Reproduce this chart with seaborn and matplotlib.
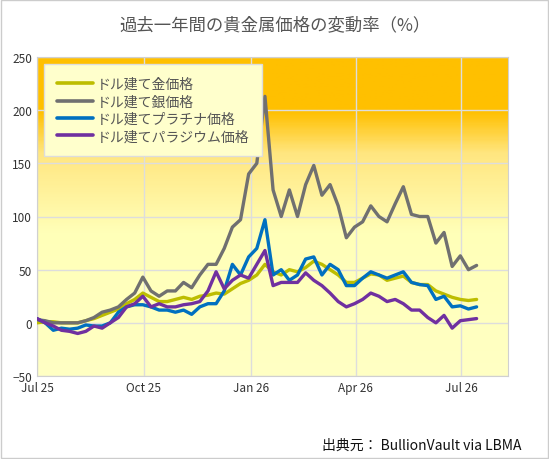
import numpy as np
import pandas as pd
import matplotlib
matplotlib.use("Agg")
import matplotlib.pyplot as plt
import matplotlib.dates as mdates
from matplotlib.colors import LinearSegmentedColormap
import seaborn as sns

# weekly % change vs 1 Jul 2025
gold = [0, 1, 1, 0, 0, 0, 2, 4, 7, 10, 13, 18, 22, 28, 24, 20, 20, 22, 24, 22,
        25, 26, 28, 27, 32, 37, 40, 45, 55, 48, 45, 50, 48, 52, 58, 55, 50, 45,
        38, 38, 42, 46, 45, 40, 42, 44, 38, 36, 36, 30, 27, 24, 22, 21, 22]
silver = [3, 2, 0, 0, 0, 0, 2, 5, 10, 12, 15, 22, 28, 43, 30, 25, 30, 30, 38, 33,
          45, 55, 55, 70, 90, 97, 140, 150, 213, 125, 100, 125, 100, 130, 148, 120,
          130, 110, 80, 90, 95, 110, 100, 95, 112, 128, 102, 100, 100, 75, 85, 53,
          63, 50, 54]
platinum = [4, 0, -7, -5, -6, -5, -2, -3, -3, 0, 10, 15, 17, 17, 15, 12, 12, 10, 12,
            8, 15, 18, 18, 30, 55, 45, 62, 70, 97, 45, 50, 40, 45, 60, 62, 45, 55,
            50, 35, 35, 42, 48, 45, 42, 45, 48, 38, 36, 35, 22, 25, 15, 16, 13, 15]
palladium = [4, 0, -3, -7, -8, -10, -8, -3, -5, 0, 5, 15, 18, 25, 15, 18, 15, 15, 17,
             18, 20, 30, 48, 32, 40, 45, 42, 55, 68, 35, 38, 38, 38, 47, 40, 35, 28,
             20, 15, 18, 22, 28, 25, 20, 22, 18, 12, 12, 5, 0, 7, -5, 2, 3, 4]
labels = ["ドル建て金価格", "ドル建て銀価格", "ドル建てプラチナ価格", "ドル建てパラジウム価格"]
colors = ["#BDBD00", "#707070", "#0070C0", "#7030A0"]

dates = pd.date_range("2025-07-01", periods=len(gold), freq="7D")
df = pd.DataFrame({"date": dates, labels[0]: gold, labels[1]: silver,
                   labels[2]: platinum, labels[3]: palladium})
long = df.melt(id_vars="date", var_name="series", value_name="pct")

sns.set_style("white")
plt.rcParams["font.family"] = ["Noto Sans CJK JP", "DejaVu Sans"]

fig = plt.figure(figsize=(5.49, 4.60), dpi=100)
ax = fig.add_axes([37 / 549, 1 - 377 / 460, 471 / 549, 319 / 460])

# background gradient: orange at top, pale yellow lower down
cmap = LinearSegmentedColormap.from_list("bg", [(0, "#FFFFC4"), (0.45, "#FFFFB8"),
                                                (0.7, "#FFE680"), (0.83, "#FFC000"), (1, "#FFC000")])
grad = np.linspace(0, 1, 300).reshape(-1, 1)
ax.imshow(grad, aspect="auto", cmap=cmap, origin="lower",
          extent=[0, 1, 0, 1], transform=ax.transAxes, zorder=0)

sns.lineplot(data=long, x="date", y="pct", hue="series", palette=colors,
             linewidth=2.4, ax=ax, zorder=3)

ax.set_xlim(pd.Timestamp("2025-07-01"), pd.Timestamp("2026-08-10"))
ax.set_ylim(-50, 250)
ax.set_yticks(range(-50, 251, 50))
ax.xaxis.set_major_locator(mdates.MonthLocator(bymonth=[1, 4, 7, 10]))
ax.xaxis.set_major_formatter(mdates.DateFormatter("%b %y"))
ax.grid(True, color="#DDDDDD", linewidth=1, zorder=1)
ax.set_axisbelow(True)
for s in ax.spines.values():
    s.set_color("#D0D0D0")
ax.tick_params(labelsize=8.5, colors="#333333", length=0)
ax.set_xlabel("")
ax.set_ylabel("")

leg = ax.legend(loc="upper left", bbox_to_anchor=(0.03, 0.955), fontsize=10,
                frameon=True, fancybox=False, facecolor="#FFFFCC",
                edgecolor="#DDDDDD", handlelength=2.6, handletextpad=0.3,
                labelspacing=0.25, borderpad=0.4, borderaxespad=0,
                title=None)
leg.get_frame().set_alpha(1)
leg.get_frame().set_boxstyle("square", pad=0.5)
for t in leg.get_texts():
    t.set_color("#555555")
for l in leg.get_lines():
    l.set_linewidth(2.6)

fig.text(0.5, 0.945, "過去一年間の貴金属価格の変動率（%）", ha="center", va="center",
         fontsize=12.5, color="#555555")
fig.text(0.95, 0.03, "出典元： BullionVault via LBMA", ha="right", va="center",
         fontsize=10, color="#111111")
fig.patches.append(plt.Rectangle((0.002, 0.002), 0.996, 0.996, transform=fig.transFigure,
                                 fill=False, edgecolor="#CCCCCC", linewidth=1))

fig.savefig("out.png", dpi=100)
